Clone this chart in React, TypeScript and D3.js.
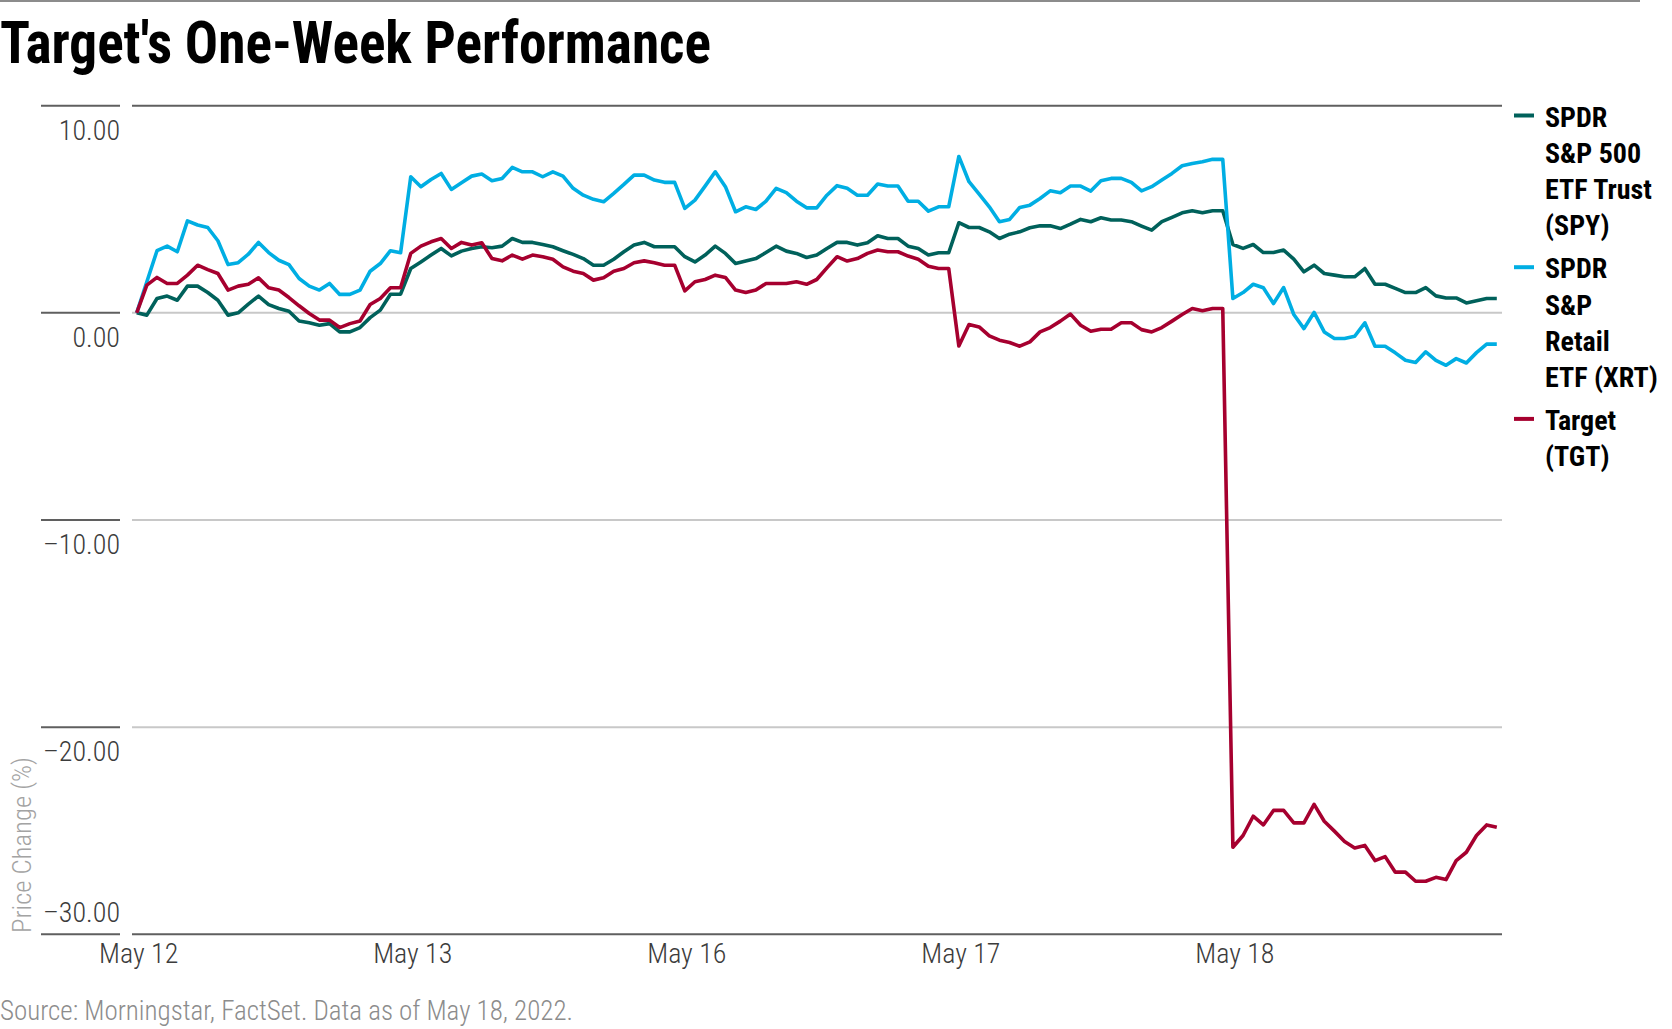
import * as d3 from "d3";

// percent change, 27 points per trading day
const dayLabels = ["May 12", "May 13", "May 16", "May 17", "May 18"];
const dayStart = [0, 27, 54, 81, 108];

const spy = [
  0, -0.11, 0.69, 0.81, 0.61, 1.29, 1.29, 0.98, 0.61, -0.11, 0, 0.42, 0.81, 0.4, 0.21, 0.08, -0.39, -0.48, -0.6, -0.52, -0.92, -0.92, -0.71, -0.23, 0.13, 0.9, 0.9,
  2.14, 2.46, 2.79, 3.11, 2.75, 2.98, 3.11, 3.19, 3.14, 3.22, 3.59, 3.4, 3.4, 3.3, 3.19, 3.0, 2.82, 2.62, 2.3, 2.3, 2.59, 2.95, 3.27, 3.4, 3.19, 3.19, 3.19,
  2.71, 2.46, 2.79, 3.22, 2.87, 2.38, 2.5, 2.62, 2.91, 3.22, 2.98, 2.87, 2.67, 2.79, 3.11, 3.4, 3.4, 3.27, 3.38, 3.72, 3.59, 3.59, 3.22, 3.11, 2.79, 2.9, 2.9,
  4.35, 4.12, 4.12, 3.91, 3.59, 3.8, 3.91, 4.11, 4.2, 4.2, 4.07, 4.28, 4.51, 4.4, 4.59, 4.48, 4.48, 4.4, 4.19, 3.99, 4.4, 4.61, 4.83, 4.93, 4.83, 4.93, 4.93,
  3.3, 3.11, 3.3, 2.91, 2.91, 3.03, 2.59, 1.98, 2.3, 1.9, 1.82, 1.74, 1.74, 2.14, 1.38, 1.38, 1.18, 0.98, 0.98, 1.22, 0.82, 0.72, 0.72, 0.48, 0.58, 0.69, 0.69,
];

const xrt = [
  0, 1.5, 3.0, 3.22, 2.95, 4.44, 4.24, 4.12, 3.48, 2.33, 2.42, 2.83, 3.4, 2.91, 2.54, 2.33, 1.66, 1.29, 1.1, 1.42, 0.89, 0.89, 1.1, 2.01, 2.38, 3.0, 2.9,
  6.57, 6.09, 6.44, 6.73, 5.96, 6.28, 6.6, 6.7, 6.38, 6.49, 7.02, 6.81, 6.81, 6.57, 6.81, 6.6, 6.01, 5.68, 5.48, 5.36, 5.77, 6.2, 6.65, 6.65, 6.41, 6.3, 6.3,
  5.04, 5.44, 6.12, 6.81, 6.09, 4.88, 5.12, 4.99, 5.39, 6.01, 5.8, 5.39, 5.07, 5.07, 5.68, 6.14, 6.01, 5.68, 5.68, 6.22, 6.12, 6.12, 5.39, 5.39, 4.91, 5.12, 5.12,
  7.55, 6.33, 5.73, 5.12, 4.4, 4.51, 5.09, 5.2, 5.52, 5.89, 5.8, 6.12, 6.12, 5.88, 6.38, 6.49, 6.49, 6.3, 5.89, 6.09, 6.41, 6.73, 7.1, 7.21, 7.29, 7.41, 7.41,
  0.69, 0.98, 1.38, 1.21, 0.45, 1.22, -0.08, -0.76, 0.02, -0.92, -1.24, -1.24, -1.13, -0.48, -1.61, -1.61, -1.93, -2.29, -2.4, -1.88, -2.29, -2.53, -2.21, -2.42, -1.92, -1.51, -1.51,
];

const tgt = [
  0, 1.34, 1.71, 1.42, 1.42, 1.82, 2.3, 2.09, 1.9, 1.1, 1.29, 1.38, 1.69, 1.21, 1.1, 0.74, 0.34, -0.03, -0.35, -0.35, -0.71, -0.52, -0.39, 0.4, 0.69, 1.21, 1.21,
  2.87, 3.22, 3.43, 3.59, 3.11, 3.4, 3.27, 3.38, 2.62, 2.51, 2.79, 2.59, 2.79, 2.71, 2.59, 2.22, 2.01, 1.9, 1.58, 1.69, 2.01, 2.14, 2.42, 2.51, 2.42, 2.3, 2.3,
  1.06, 1.5, 1.61, 1.82, 1.71, 1.1, 0.98, 1.1, 1.42, 1.42, 1.42, 1.5, 1.38, 1.61, 2.17, 2.71, 2.5, 2.62, 2.87, 3.03, 2.95, 2.95, 2.74, 2.59, 2.25, 2.14, 2.14,
  -1.6, -0.56, -0.68, -1.11, -1.32, -1.43, -1.61, -1.4, -0.92, -0.71, -0.4, -0.06, -0.6, -0.89, -0.79, -0.79, -0.48, -0.48, -0.81, -0.92, -0.71, -0.4, -0.08, 0.21, 0.1, 0.21, 0.21,
  -25.8, -25.23, -24.3, -24.72, -24.02, -24.02, -24.62, -24.62, -23.73, -24.54, -25.02, -25.52, -25.83, -25.71, -26.44, -26.25, -27.0, -27.0, -27.44, -27.44, -27.25, -27.36, -26.44, -26.04, -25.23, -24.72, -24.83,
];

const yTicks = [10, 0, -10, -20, -30];

const series = [
  { name: ["SPDR", "S&P 500", "ETF Trust", "(SPY)"], values: spy, color: "#00615b" },
  { name: ["SPDR", "S&P", "Retail", "ETF (XRT)"], values: xrt, color: "#00aee3" },
  { name: ["Target", "(TGT)"], values: tgt, color: "#a6002f" },
];

const LIGHT = "'Liberation Sans Narrow', 'Arial Narrow', 'Roboto Condensed', 'DejaVu Sans Condensed', sans-serif";
const BOLD = LIGHT;

export default function App() {
  const W = 1672;
  const H = 1029;
  const x = d3.scaleLinear().domain([0, spy.length - 1]).range([136.7, 1496.8]);
  const y = d3.scaleLinear().domain([-30, 10]).range([934.3, 105.7]);
  const line = d3.line<number>().x((_, i) => x(i)).y((v) => y(v));

  // legend rows: 36px between lines, 43px between entries
  let ly = 115.5;
  const legendRows: { text: string; y: number; first: boolean; color: string }[] = [];
  series.forEach((s) => {
    s.name.forEach((t, k) => {
      legendRows.push({ text: t, y: ly, first: k === 0, color: s.color });
      ly += 36.3;
    });
    ly += 6.5;
  });

  return (
    <svg width={W} height={H} style={{ position: "absolute", left: 0, top: 0, background: "#fff" }}>
      <line x1={0} x2={1640} y1={1} y2={1} stroke="#8c8c8c" strokeWidth={2} />
      <text x={0} y={63} fontFamily={BOLD} fontWeight="bold" fontSize={60} fill="#000" textLength={711} lengthAdjust="spacingAndGlyphs">
        Target's One-Week Performance
      </text>

      {yTicks.map((t) => {
        const edge = t === 10 || t === -30;
        return (
          <g key={t}>
            <line x1={41} x2={120} y1={y(t)} y2={y(t)} stroke="#5f5f5f" strokeWidth={2} />
            <line x1={132} x2={1502} y1={y(t)} y2={y(t)} stroke={edge ? "#5f5f5f" : "#c8c8c8"} strokeWidth={2} />
            <text x={120} y={t === -30 ? y(t) - 12.5 : y(t) + 34} textAnchor="end" fontFamily={LIGHT} fontWeight={300} fontSize={28} fill="#3c3c3c">
              {t < 0 ? `\u2013${Math.abs(t).toFixed(2)}` : t.toFixed(2)}
            </text>
          </g>
        );
      })}

      <text transform="translate(31,933) rotate(-90)" fontFamily={LIGHT} fontWeight={300} fontSize={26} fill="#a3a3a3" textLength={176} lengthAdjust="spacingAndGlyphs">
        Price Change (%)
      </text>

      {dayStart.map((d, i) => (
        <text key={d} x={x(d) + 2} y={963} textAnchor="middle" fontFamily={LIGHT} fontWeight={300} fontSize={28} fill="#3c3c3c">
          {dayLabels[i]}
        </text>
      ))}

      {series.map((s) => (
        <path key={s.color} d={line(s.values) ?? ""} fill="none" stroke={s.color} strokeWidth={3.6} strokeLinejoin="round" />
      ))}

      {legendRows.map((r, i) => (
        <g key={i}>
          {r.first && <line x1={1514} x2={1534} y1={r.y} y2={r.y} stroke={r.color} strokeWidth={4} />}
          <text x={1545} y={r.y + 11} fontFamily={BOLD} fontWeight="bold" fontSize={28} fill="#000">
            {r.text}
          </text>
        </g>
      ))}

      <text x={0} y={1020} fontFamily={LIGHT} fontWeight={300} fontSize={27} fill="#8c8c8c" textLength={573} lengthAdjust="spacingAndGlyphs">
        Source: Morningstar, FactSet. Data as of May 18, 2022.
      </text>
    </svg>
  );
}
